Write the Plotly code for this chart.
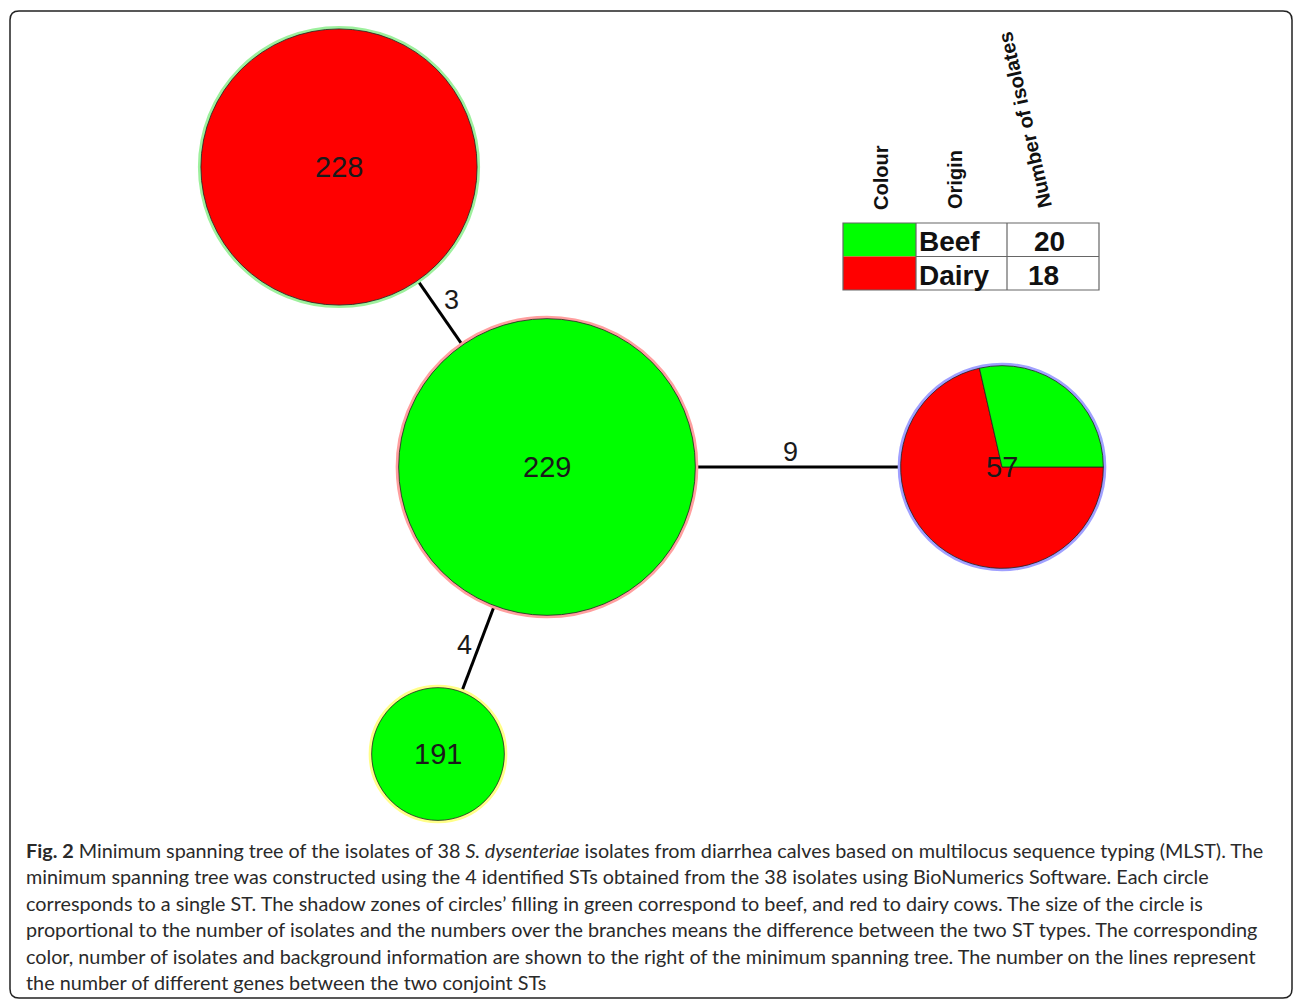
import plotly.graph_objects as go
import math

# ---------------- data ----------------
st_labels = ["228", "229", "57", "191"]
beef_counts = [0, 15, 2, 3]
dairy_counts = [13, 0, 5, 0]
edge_from = ["228", "229", "229"]
edge_to = ["229", "57", "191"]
edge_diff = [3, 9, 4]
origins = ["Beef", "Dairy"]
header_labels = ["Colour", "Origin", "Number of isolates"]

caption_lines = [
    "<b>Fig. 2</b> Minimum spanning tree of the isolates of 38 <i>S. dysenteriae</i> isolates from diarrhea calves based on multilocus sequence typing (MLST). The",
    "minimum spanning tree was constructed using the 4 identified STs obtained from the 38 isolates using BioNumerics Software. Each circle",
    "corresponds to a single ST. The shadow zones of circles\u2019 filling in green correspond to beef, and red to dairy cows. The size of the circle is",
    "proportional to the number of isolates and the numbers over the branches means the difference between the two ST types. The corresponding",
    "color, number of isolates and background information are shown to the right of the minimum spanning tree. The number on the lines represent",
    "the number of different genes between the two conjoint STs",
]

# ---------------- layout / style ----------------
W, H = 1293, 1002
node_pos = {"228": (339, 167), "229": (547, 467), "57": (1002, 467), "191": (438, 754)}
halo_colors = {"228": "#9df09d", "229": "#ff9f9f", "57": "#a0a0ff", "191": "#ffff88"}
edge_label_pos = [(451, 300), (790, 452), (464, 645)]
K = 38.3  # px radius per sqrt(isolate)
GREEN, RED = "#00ff00", "#ff0000"
ARIAL = "Arial, Liberation Sans, sans-serif"

fig = go.Figure()

# edges (centre to centre, hidden under the node discs)
ex, ey = [], []
for a, b in zip(edge_from, edge_to):
    ex += [node_pos[a][0], node_pos[b][0], None]
    ey += [node_pos[a][1], node_pos[b][1], None]
fig.add_trace(go.Scatter(x=ex, y=ey, mode="lines", line=dict(color="black", width=3),
                         hoverinfo="skip", showlegend=False))

# halo rings, sized by number of isolates (area mode: diameter = sqrt(2*n/sizeref))
totals = [b + d for b, d in zip(beef_counts, dairy_counts)]
fig.add_trace(go.Scatter(
    x=[node_pos[s][0] for s in st_labels], y=[node_pos[s][1] for s in st_labels],
    mode="markers",
    marker=dict(size=totals, sizemode="area", sizeref=1.0 / (2 * K * K),
                color="white", opacity=1,
                line=dict(color=[halo_colors[s] for s in st_labels], width=6)),
    hoverinfo="skip", showlegend=False))

# node discs as pies (dairy then beef, clockwise from 3 o'clock)
for s, b, d in zip(st_labels, beef_counts, dairy_counts):
    n = b + d
    r = K * math.sqrt(n)
    cx, cy = node_pos[s]
    vals, cols = [], []
    if d > 0:
        vals.append(d); cols.append(RED)
    if b > 0:
        vals.append(b); cols.append(GREEN)
    fig.add_trace(go.Pie(
        values=vals, labels=[f"{s}-{i}" for i in range(len(vals))],
        marker=dict(colors=cols, line=dict(color="#222222", width=0.8)),
        sort=False, direction="clockwise", rotation=90,
        textinfo="none", hoverinfo="skip", showlegend=False,
        domain=dict(x=[(cx - r) / W, (cx + r) / W], y=[1 - (cy + r) / H, 1 - (cy - r) / H]),
    ))
    fig.add_annotation(x=cx, y=cy, text=s, showarrow=False,
                       font=dict(family=ARIAL, size=29, color="#1a1a1a"))

# edge labels
for (lx, ly), dlab in zip(edge_label_pos, edge_diff):
    fig.add_annotation(x=lx, y=ly, text=str(dlab), showarrow=False,
                       font=dict(family=ARIAL, size=27, color="#1a1a1a"))

# ---------------- legend table ----------------
shapes = []
x0, x1, x2, x3 = 843, 916, 1007, 1099
y0, y1, y2 = 223, 256.5, 290
shapes.append(dict(type="rect", x0=x0, x1=x1, y0=y0, y1=y1, fillcolor=GREEN, line=dict(width=0)))
shapes.append(dict(type="rect", x0=x0, x1=x1, y0=y1, y1=y2, fillcolor=RED, line=dict(width=0)))
shapes.append(dict(type="rect", x0=x0, x1=x3, y0=y0, y1=y2, line=dict(color="#666666", width=1.2)))
shapes.append(dict(type="line", x0=x1, x1=x3, y0=y1, y1=y1, line=dict(color="#666666", width=1.2)))
shapes.append(dict(type="line", x0=x2, x1=x2, y0=y0, y1=y2, line=dict(color="#666666", width=1.2)))
shapes.append(dict(type="line", x0=x1, x1=x1, y0=y0, y1=y2, line=dict(color="#666666", width=1.2)))

origin_counts = [sum(beef_counts), sum(dairy_counts)]
num_x = [1049, 1043]
for i, (o, c) in enumerate(zip(origins, origin_counts)):
    yc = (y0 + y1) / 2 + i * (y1 - y0) + 2
    fig.add_annotation(x=x1 + 1, y=yc, text=f"<b>{o}</b>", showarrow=False, xanchor="left",
                       font=dict(family=ARIAL, size=28, color="#111111"))
    fig.add_annotation(x=num_x[i], y=yc, text=f"<b>{c}</b>", showarrow=False,
                       font=dict(family=ARIAL, size=28, color="#111111"))

header_pos = [(881, 178, -90), (955, 180, -90), (1025, 120, -103)]
for txt, (hx, hy, ang) in zip(header_labels, header_pos):
    fig.add_annotation(x=hx, y=hy, text=f"<b>{txt}</b>", showarrow=False, textangle=ang,
                       font=dict(family=ARIAL, size=20, color="#111111"))

# ---------------- caption ----------------
cap_y0, cap_dy = 850, 26.4
for i, line in enumerate(caption_lines):
    fig.add_annotation(x=24, y=cap_y0 + i * cap_dy, text=line, showarrow=False,
                       xanchor="left", yanchor="middle",
                       font=dict(family="Lato, Open Sans, sans-serif", size=19.8, color="#2a2a2a"))

# rounded frame
R = 9
fx0, fy0, fx1, fy1 = 10, 11, 1292, 998
frame = (f"M {fx0+R},{fy0} L {fx1-R},{fy0} Q {fx1},{fy0} {fx1},{fy0+R} "
         f"L {fx1},{fy1-R} Q {fx1},{fy1} {fx1-R},{fy1} L {fx0+R},{fy1} "
         f"Q {fx0},{fy1} {fx0},{fy1-R} L {fx0},{fy0+R} Q {fx0},{fy0} {fx0+R},{fy0} Z")
shapes.append(dict(type="path", path=frame, line=dict(color="#222222", width=1.5), layer="below"))

fig.update_layout(
    width=W, height=H, margin=dict(l=0, r=0, t=0, b=0),
    paper_bgcolor="white", plot_bgcolor="white",
    xaxis=dict(range=[0, W], visible=False, fixedrange=True),
    yaxis=dict(range=[H, 0], visible=False, fixedrange=True),
    shapes=shapes, showlegend=False,
)

fig.write_html("out.html", config={"displayModeBar": False},
               post_script="document.body.style.margin='0';document.body.style.overflow='hidden';")
